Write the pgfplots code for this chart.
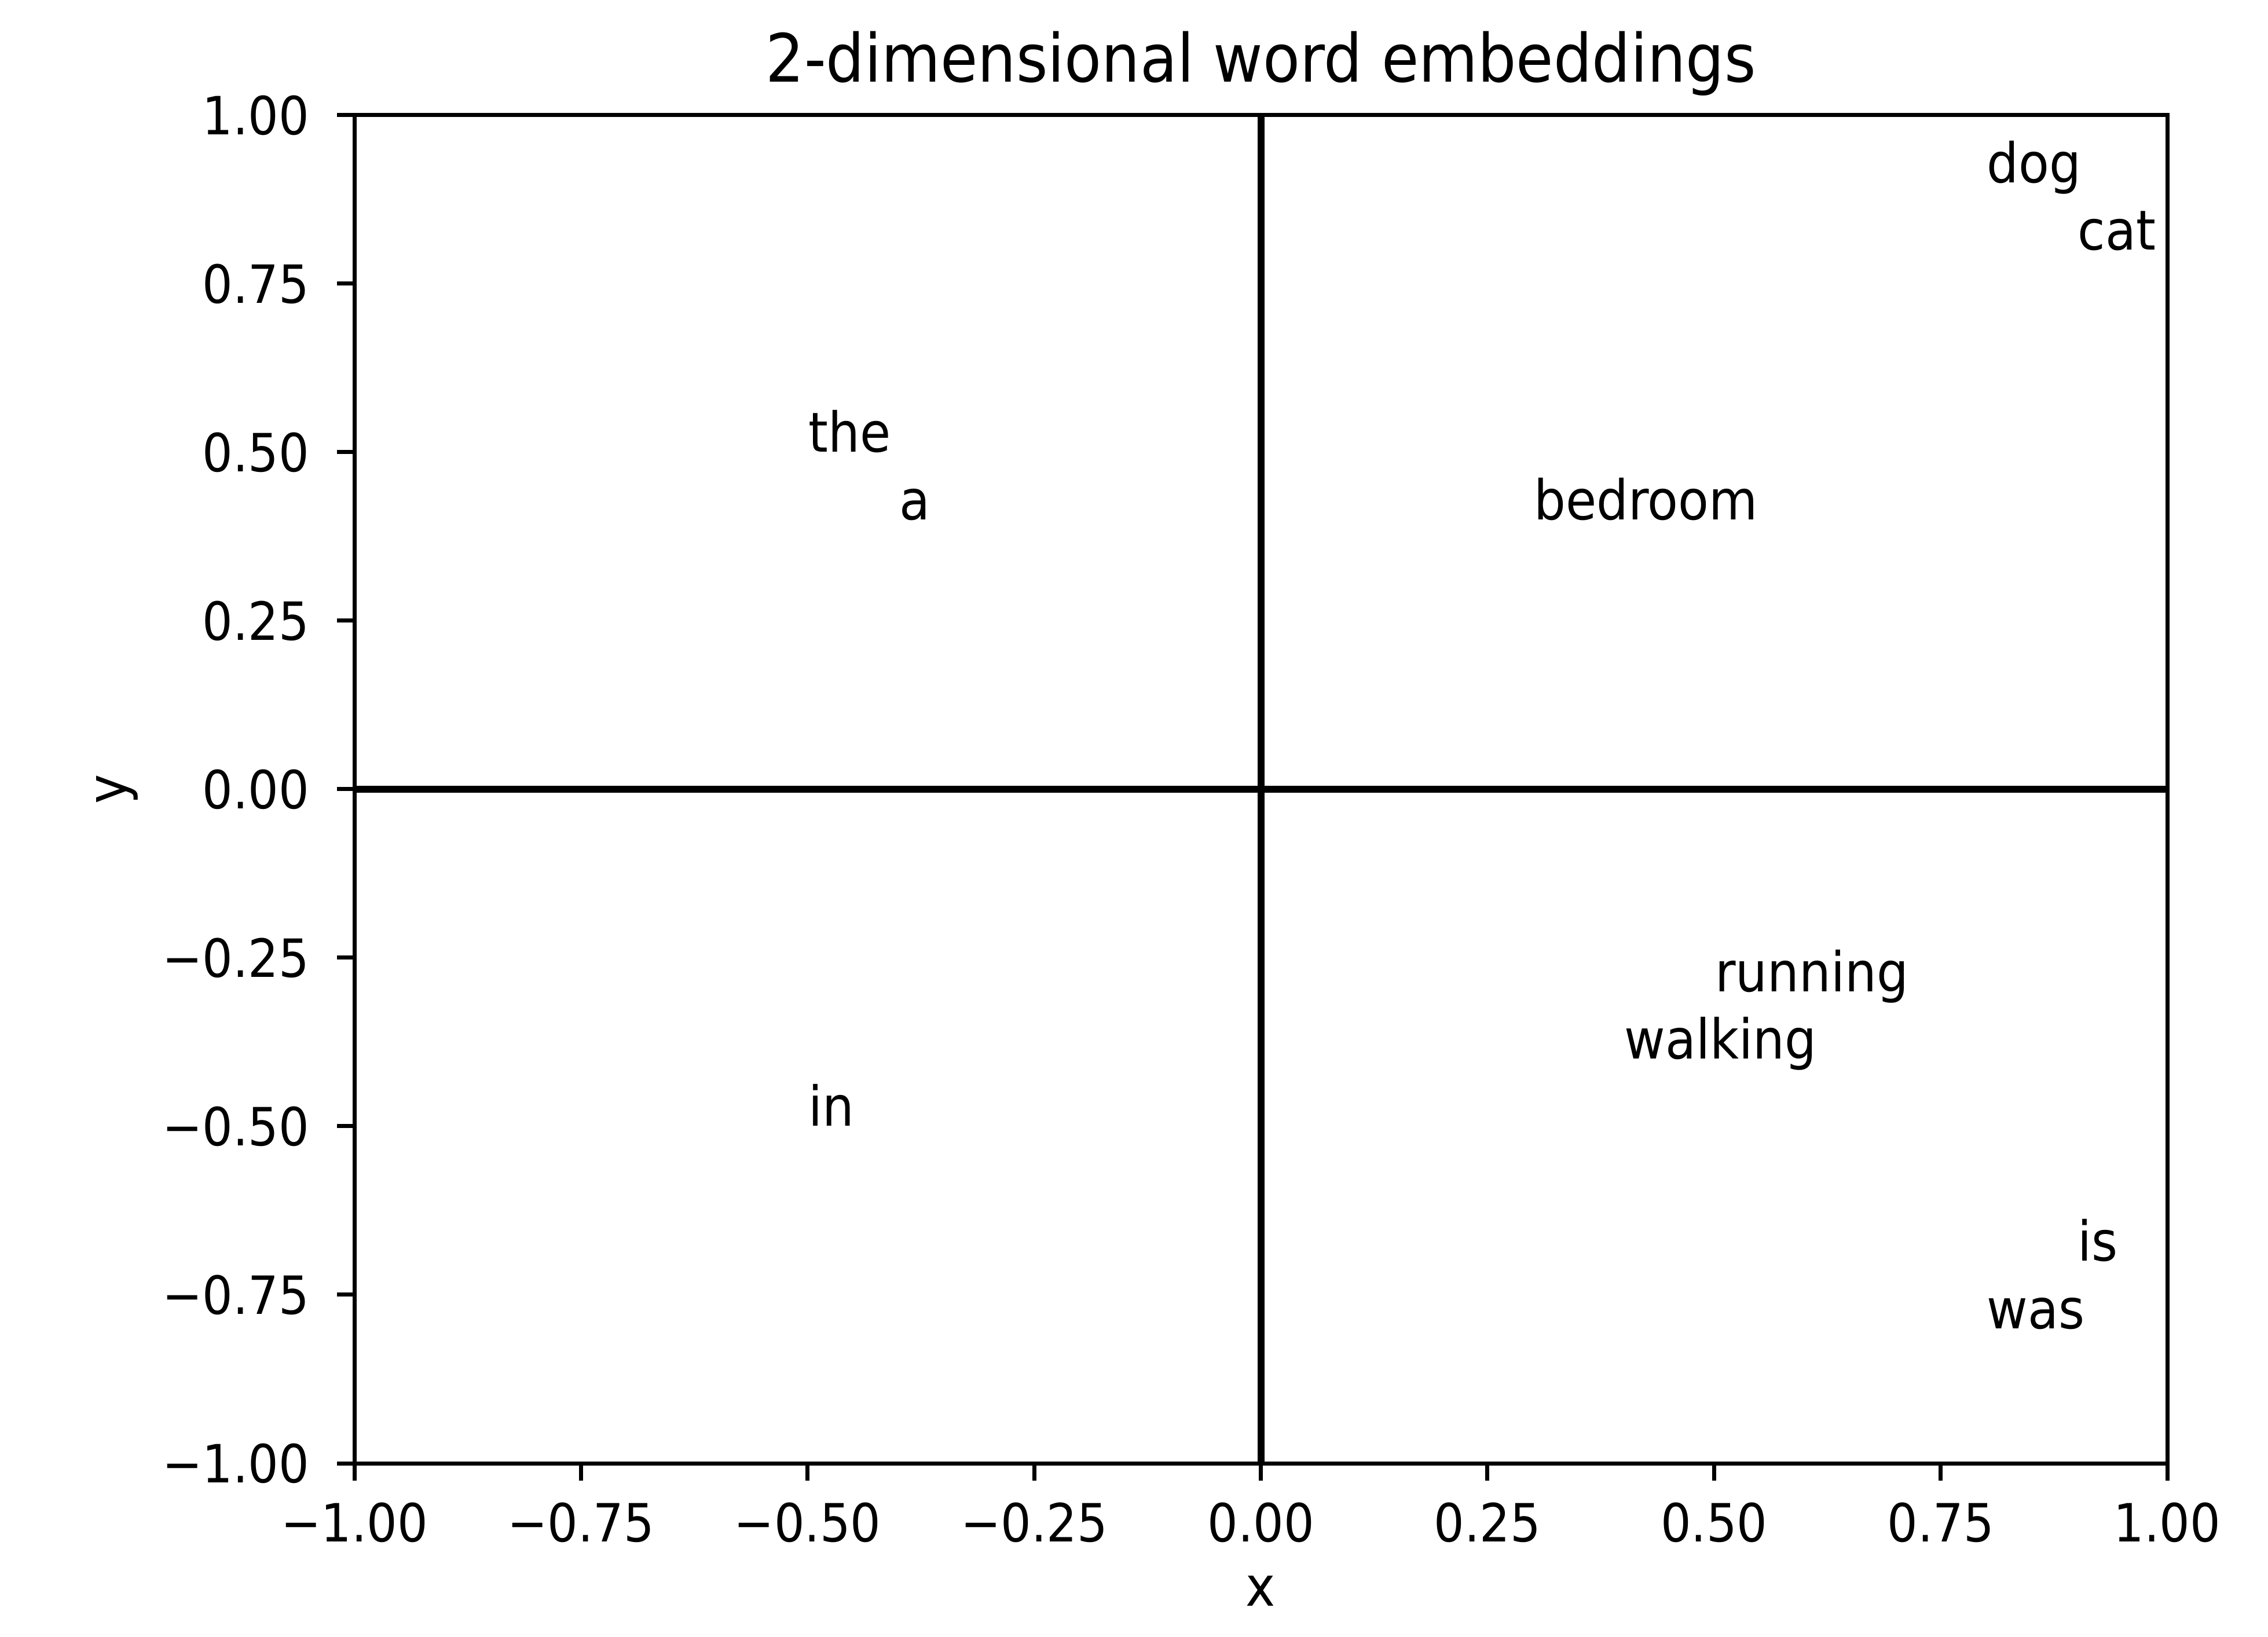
\documentclass[border=0pt]{standalone}
\usepackage{fontspec}
\setmainfont{DejaVu Sans}[FakeStretch=0.91]
\usepackage{pgfplots}
\usepackage{pgfplotstable}
\pgfplotsset{compat=1.18}

\pgfplotstableread{
x y label
0.8 0.9 dog
0.9 0.8 cat
-0.5 0.5 the
-0.4 0.4 a
0.3 0.4 bedroom
0.5 -0.3 running
0.4 -0.4 walking
-0.5 -0.5 in
0.9 -0.7 is
0.8 -0.8 was
}\words

\begin{document}
\begin{tikzpicture}
\begin{axis}[
  scale only axis,
  width=313.1pt, height=232.8pt,
  xmin=-1, xmax=1, ymin=-1, ymax=1,
  axis line style={line width=0.7pt},
  tick align=outside,
  major tick length=3pt,
  tick style={line width=0.7pt, black},
  xtick={-1,-0.75,-0.5,-0.25,0,0.25,0.5,0.75,1},
  ytick={-1,-0.75,-0.5,-0.25,0,0.25,0.5,0.75,1},
  xticklabels={−1.00,−0.75,−0.50,−0.25,0.00,0.25,0.50,0.75,1.00},
  yticklabels={−1.00,−0.75,−0.50,−0.25,0.00,0.25,0.50,0.75,1.00},
  ticklabel style={font=\fontsize{9.1}{10}\selectfont},
  xticklabel style={inner sep=0pt, anchor=north, yshift=-3.6pt},
  yticklabel style={inner sep=0pt, anchor=east, xshift=-4.6pt},
  xtick pos=bottom, ytick pos=left,
  every axis title shift=0pt,
  title={2-dimensional word embeddings},
  title style={at={(axis description cs:0.5,1)}, anchor=base, yshift=5.7pt, inner sep=0pt, font=\fontsize{11.5}{13}\selectfont},
  xlabel={x},
  ylabel={y},
  xlabel style={at={(axis description cs:0.5,0)}, anchor=center, yshift=-22.1pt, font=\fontsize{9.5}{11}\selectfont},
  ylabel style={at={(axis description cs:0,0.5)}, anchor=center, yshift=41pt, font=\fontsize{9.5}{11}\selectfont},
  clip=false,
]
\addplot[black, line width=1.2pt] coordinates {(-1,0) (1,0)};
\addplot[black, line width=1.2pt] coordinates {(0,-1) (0,1)};
\addplot[only marks, mark=none, nodes near coords, point meta=explicit symbolic,
  nodes near coords style={anchor=base west, inner sep=0pt, font=\fontsize{9.5}{11}\selectfont, text=black}]
  table[x=x, y=y, meta=label] {\words};
\end{axis}
\pgfresetboundingbox
\path ([shift={(-61.2pt,-29.9pt)}]current axis.south west) rectangle ([shift={(17.4pt,19.9pt)}]current axis.north east);
\end{tikzpicture}
\end{document}
